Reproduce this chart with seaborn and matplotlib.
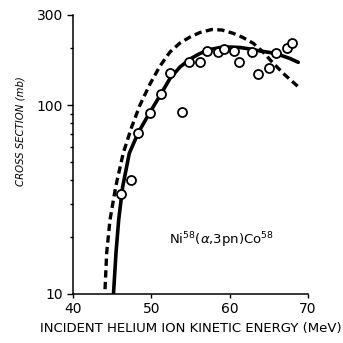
import numpy as np
import pandas as pd
import matplotlib
matplotlib.use("Agg")
import matplotlib.pyplot as plt
import matplotlib.ticker as mticker
import seaborn as sns

# Experimental points
exp_energy = [46.1, 47.4, 48.3, 49.8, 51.2, 52.4, 53.9, 54.8, 56.2, 57.1,
              58.5, 59.3, 60.6, 61.2, 62.8, 63.6, 65.0, 65.9, 67.3, 67.9]
exp_sigma = [34, 40, 71, 91, 115, 148, 92, 169, 170, 193,
             190, 198, 193, 170, 190, 146, 158, 189, 200, 214]

# Solid calculated curve
solid_energy = [45.17, 45.49, 45.83, 46.34, 47.19, 48.34, 49.77, 51.23, 52.38, 53.66, 54.94,
                56.21, 57.49, 58.77, 60.04, 61.32, 62.60, 63.87, 65.15, 66.43, 67.70, 68.76]
solid_sigma = [10, 16.5, 24.6, 36.9, 55.6, 71.6, 90.8, 114.5, 138.3, 159.1, 175.4,
               187.6, 197, 201.8, 203, 201.8, 198.2, 193.4, 189.9, 184.2, 176.5, 168.5]

# Dashed calculated curve
dash_energy = [44.09, 44.30, 44.72, 45.45, 46.42, 47.49, 48.55, 49.83, 51.11, 52.38, 53.66,
               54.94, 56.21, 57.71, 59.02, 60.46, 61.70, 63.02, 64.26, 65.57, 67.07, 68.98]
dash_sigma = [10.6, 16.5, 24.6, 36.9, 55.8, 76.6, 100.1, 129.3, 161.1, 191.0, 213.2,
              229.3, 242.3, 251.3, 249.8, 239.9, 227.9, 212.4, 191.0, 166.5, 144.3, 122.7]

sns.set_theme(style="ticks")
plt.rcParams["font.family"] = ["DejaVu Sans"]

fig = plt.figure(figsize=(3.43, 3.43), dpi=100)
ax = fig.add_axes([0.2128, 0.1429, 0.6851, 0.8134])

sns.lineplot(x=dash_energy, y=dash_sigma, ax=ax, color="black", lw=2.4,
             sort=False, estimator=None)
ax.lines[-1].set_dashes((2.2, 1.3))
sns.lineplot(x=solid_energy, y=solid_sigma, ax=ax, color="black", lw=2.6,
             sort=False, estimator=None)
sns.scatterplot(x=exp_energy, y=exp_sigma, ax=ax, marker="o", s=42,
                facecolor="white", edgecolor="black", linewidth=1.3, zorder=5)

ax.set_yscale("log")
ax.set_xlim(40, 70)
ax.set_ylim(10, 300)
ax.set_xticks([40, 50, 60, 70])
ax.yaxis.set_major_locator(mticker.FixedLocator([10, 100, 300]))
ax.yaxis.set_major_formatter(mticker.FixedFormatter(["10", "100", "300"]))
ax.yaxis.set_minor_locator(mticker.FixedLocator([20, 30, 40, 50, 60, 70, 80, 90, 200]))
ax.yaxis.set_minor_formatter(mticker.NullFormatter())
ax.tick_params(axis="x", which="major", length=3, width=1, pad=2.5, labelsize=10,
               color="black", labelcolor="black")
ax.tick_params(axis="y", which="major", length=4, width=1, pad=3, labelsize=10,
               color="black", labelcolor="black")
ax.tick_params(axis="y", which="minor", length=2.5, width=1, color="black")
for s in ["left", "bottom"]:
    ax.spines[s].set_color("black")
    ax.spines[s].set_linewidth(1.1)
sns.despine(ax=ax)

ax.set_xlabel("INCIDENT HELIUM ION KINETIC ENERGY (MeV)", fontsize=9.5, color="black")
ax.xaxis.set_label_coords(0.502, -0.099)
ax.set_ylabel("CROSS SECTION (mb)", fontsize=7.3, style="italic", color="black",
              family=["Liberation Sans Narrow", "DejaVu Sans"])
ax.yaxis.set_label_coords(-0.2, 0.585)

ax.text(58.9, 19.2, r"Ni$^{58}$($\alpha$,3pn)Co$^{58}$", fontsize=9.5, ha="center", va="center", color="black")

fig.savefig("out.png", dpi=100)
